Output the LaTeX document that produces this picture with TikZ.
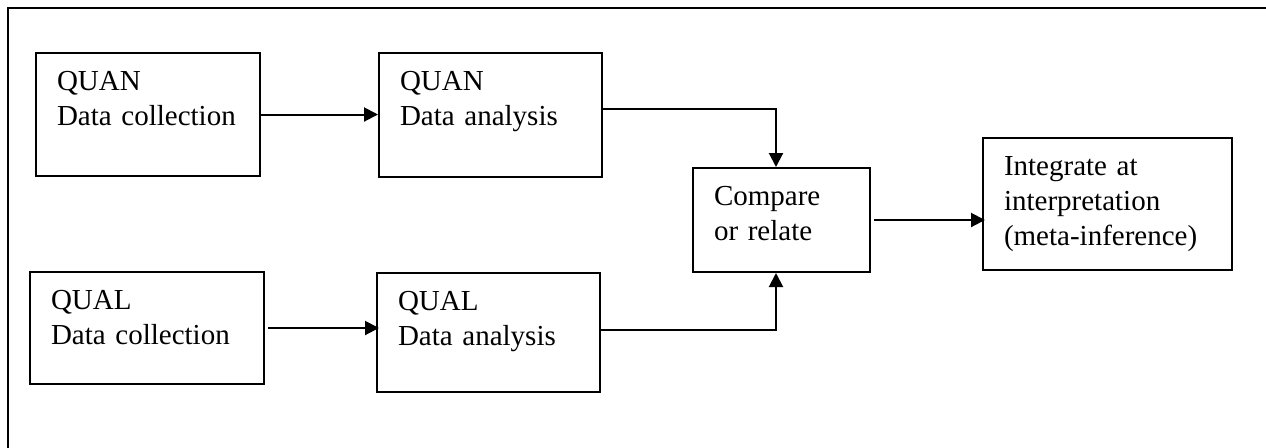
\documentclass[tikz,border=0pt]{standalone}
\usepackage{fontspec}
\setmainfont{Liberation Serif}
\usetikzlibrary{arrows.meta}

\begin{document}
\begin{tikzpicture}[x=0.5pt,y=-0.5pt,
    stage/.style={draw,line width=1pt,anchor=north west,inner xsep=10.5pt,inner ysep=0pt,
      align=left,text height=18.5pt,font=\fontsize{14.5pt}{17.5pt}\selectfont},
    flow/.style={line width=1pt,-{Triangle[length=7pt,width=7pt]}}]
		\useasboundingbox (0,0) rectangle (1266,447);
		\draw[line width=1pt] (1275,8) -- (8,8) -- (8,455);
		% quantitative strand
		\node[stage,text width=91pt,text depth=43pt] (quancol) at (35,52) {QUAN\\Data collection};
		\node[stage,text width=90.5pt,text depth=43.5pt] (quanana) at (378,52) {QUAN\\Data analysis};
		% qualitative strand
		\node[stage,text width=96pt,text depth=37.5pt] (qualcol) at (29,271) {QUAL\\Data collection};
		\node[stage,text width=90.5pt,text depth=41pt] (qualana) at (376,272) {QUAL\\Data analysis};
		% merging
		\node[stage,text width=67.5pt,text depth=33.5pt] (compare) at (692,167) {Compare\\or relate};
		\node[stage,text width=103.5pt,text depth=47.5pt] (integ) at (982,137) {Integrate at\\interpretation\\(meta-inference)};
		\draw[flow] (quancol.east) -- (quancol.east -| quanana.west);
		\draw[flow] ([xshift=1.5pt]qualcol.east) -- ([xshift=1.5pt]qualcol.east -| qualana.west);
		\draw[flow] ([yshift=3pt]quanana.east) -| ([xshift=-2.75pt]compare.north);
		\draw[flow] ([yshift=1.25pt]qualana.east) -| ([xshift=-2.75pt]compare.south);
		\draw[flow] ([xshift=1.5pt]compare.east) -- ([xshift=1.5pt]compare.east -| integ.west);
\end{tikzpicture}
\end{document}
